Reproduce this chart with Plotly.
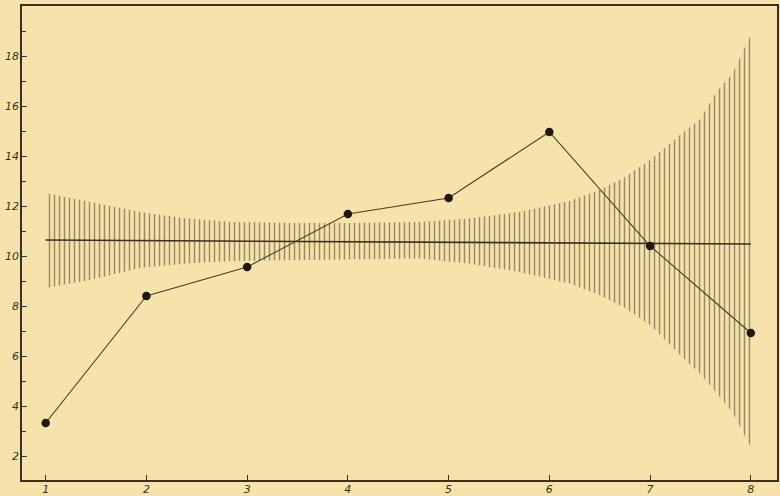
import plotly.graph_objects as go

# observed series
x_obs = [1, 2, 3, 4, 5, 6, 7, 8]
y_obs = [3.32, 8.4, 9.56, 11.68, 12.32, 14.96, 10.4, 6.92]

# fitted (horizontal) line
x_fit = [1, 8]
y_fit = [10.64, 10.48]

# hatched band limits
band_x = [1.0, 1.44, 1.94, 2.4, 2.86, 3.5, 4.0, 4.7, 5.2, 5.7, 6.2, 6.5, 6.75, 7.0, 7.32, 7.49, 7.66, 7.82, 8.0]
band_upper = [12.52, 12.16, 11.76, 11.5, 11.36, 11.32, 11.32, 11.36, 11.5, 11.76, 12.2, 12.64, 13.16, 13.84, 14.92, 15.44, 16.56, 17.32, 18.84]
band_lower = [8.72, 9.04, 9.52, 9.7, 9.8, 9.84, 9.86, 9.9, 9.7, 9.36, 8.9, 8.44, 7.92, 7.24, 5.96, 5.32, 4.52, 3.72, 2.36]

x_ticks = [1, 2, 3, 4, 5, 6, 7, 8]
x_ticklabels = ["1", "2", "3", "4", "5", "6", "7", "8"]
y_ticks = [2, 4, 6, 8, 10, 12, 14, 16, 18]
y_ticklabels = ["2", "4", "6", "8", "10", "12", "14", "16", "18"]

INK = "#3b3020"
BG = "#f5e3ab"

fig = go.Figure()

fig.add_trace(go.Scatter(x=band_x, y=band_lower, mode="lines",
                         line=dict(width=0, color="rgba(0,0,0,0)"),
                         hoverinfo="skip", showlegend=False))
fig.add_trace(go.Scatter(x=band_x, y=band_upper, mode="lines",
                         line=dict(width=0, color="rgba(0,0,0,0)"),
                         fill="tonexty", fillcolor="rgba(0,0,0,0)",
                         fillpattern=dict(shape="|", size=5, solidity=0.3,
                                          fgcolor="#3e3220", bgcolor="rgba(0,0,0,0)"),
                         hoverinfo="skip", showlegend=False))

fig.add_trace(go.Scatter(x=x_fit, y=y_fit, mode="lines",
                         line=dict(color=INK, width=1.6), showlegend=False))

fig.add_trace(go.Scatter(x=x_obs, y=y_obs, mode="lines+markers",
                         line=dict(color="#4a3d28", width=1.1),
                         marker=dict(size=8.5, color="#1e1810"),
                         showlegend=False))

fig.update_layout(
    width=780, height=496,
    margin=dict(l=22, r=3, t=6, b=16, autoexpand=False),
    paper_bgcolor=BG, plot_bgcolor=BG,
    font=dict(family="DejaVu Sans", color=INK),
)

fig.update_xaxes(range=[0.765, 8.26], tickvals=x_ticks, ticktext=x_ticklabels,
                 ticks="inside", ticklen=5, tickcolor=INK, tickwidth=1,
                 showgrid=False, zeroline=False, automargin=False,
                 ticklabelstandoff=-2,
                 showline=True, linecolor=INK, linewidth=1.6, mirror=True,
                 tickfont=dict(size=11, style="italic", color=INK))
fig.update_yaxes(range=[1.04, 20.0], tickvals=y_ticks, ticktext=y_ticklabels,
                 ticks="inside", ticklen=5, tickcolor=INK, tickwidth=1,
                 minor=dict(dtick=1, tick0=1, ticks="inside", ticklen=4, tickcolor=INK, showgrid=False),
                 showgrid=False, zeroline=False, automargin=False,
                 ticklabelstandoff=-1,
                 showline=True, linecolor=INK, linewidth=1.6, mirror=True,
                 tickfont=dict(size=11, style="italic", color=INK))

fig.write_html("out.html",
               config={"displayModeBar": False},
               post_script="document.body.style.margin='0';document.body.style.padding='0';document.body.style.overflow='hidden';")
